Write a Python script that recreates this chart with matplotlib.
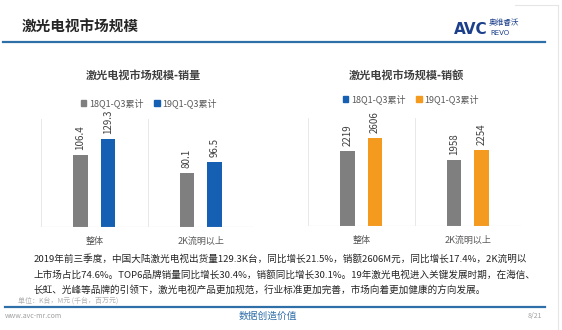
import matplotlib
matplotlib.use("Agg")
import matplotlib.pyplot as plt
from matplotlib.patches import Patch
from matplotlib.lines import Line2D
import numpy as np

plt.rcParams['font.family'] = ['Noto Sans CJK SC', 'DejaVu Sans']

# 数据
categories = ['整体', '2K流明以上']
series_names = ['18Q1-Q3累计', '19Q1-Q3累计']
volume_18 = [106.4, 80.1]
volume_19 = [129.3, 96.5]
sales_18 = [2219, 1958]
sales_19 = [2606, 2254]

page_title = '激光电视市场规模'
title_volume = '激光电视市场规模-销量'
title_sales = '激光电视市场规模-销额'
notes = [
    '2019年前三季度，中国大陆激光电视出货量129.3K台，同比增长21.5%，销额2606M元，同比增长17.4%，2K流明以',
    '上市场占比74.6%。TOP6品牌销量同比增长30.4%，销额同比增长30.1%。19年激光电视进入关键发展时期，在海信、',
    '长虹、光峰等品牌的引领下，激光电视产品更加规范，行业标准更加完善，市场向着更加健康的方向发展。',
]
unit_text = '单位：K台，M元 (千台，百万元)'

GRAY = '#7f7f7f'
BLUE = '#1660b4'
ORANGE = '#f39a1f'
LINE_BLUE = '#2f6fa8'

W, H = 562, 330
fig = plt.figure(figsize=(W / 100, H / 100), dpi=100)


def fx(px):
    return px / W


def fy(py):
    return 1 - py / H


def bar_panel(x0, x1, base, top, v18, v19, c18, c19, ymax, fmt):
    ax = fig.add_axes([fx(x0), fy(base), fx(x1) - fx(x0), fy(top) - fy(base)])
    x = np.arange(len(categories))
    w = 0.135
    b1 = ax.bar(x - 0.13, v18, w, color=c18)
    b2 = ax.bar(x + 0.13, v19, w, color=c19)
    for bars in (b1, b2):
        for b in bars:
            ax.annotate(fmt.format(b.get_height()),
                        (b.get_x() + b.get_width() / 2, b.get_height()),
                        xytext=(0, 3.5), textcoords='offset points',
                        rotation=90, ha='center', va='bottom',
                        fontsize=7, color='#404040')
    ax.set_xlim(-0.5, len(categories) - 0.5)
    ax.set_ylim(0, ymax)
    for xv in np.arange(-0.5, len(categories)):
        ax.axvline(xv, color='#e8e8e8', lw=0.7, zorder=0)
    for s in ax.spines.values():
        s.set_visible(False)
    ax.axhline(0, color='#d0d0d0', lw=0.8)
    ax.set_yticks([])
    ax.set_xticks(x)
    ax.set_xticklabels(categories, fontsize=6.5, color='#595959')
    ax.tick_params(axis='x', length=0, pad=7)
    return ax


ax1 = bar_panel(41, 254, 227, 118.5, volume_18, volume_19, GRAY, BLUE, 160, '{:.1f}')
ax2 = bar_panel(308, 521, 226, 118, sales_18, sales_19, GRAY, ORANGE, 3200, '{:.0f}')

# 图表标题
fig.text(fx(143), fy(75), title_volume, ha='center', va='center',
         fontsize=8, fontweight='bold', color='#404040')
fig.text(fx(406), fy(75), title_sales, ha='center', va='center',
         fontsize=8, fontweight='bold', color='#404040')

# 图例 (原图右侧第一个色块为蓝色)
h1 = [Patch(color=GRAY), Patch(color=BLUE)]
h2 = [Patch(color=BLUE), Patch(color=ORANGE)]
for handles, cx, cy in ((h1, 149, 103), (h2, 411, 99)):
    fig.legend(handles, series_names, loc='center', bbox_to_anchor=(fx(cx), fy(cy)),
               ncol=2, frameon=False, fontsize=6.5, labelcolor='#595959',
               handlelength=0.6, handleheight=0.6, handletextpad=0.3,
               columnspacing=1.2, borderpad=0)

# 页面标题与线条
fig.text(fx(22), fy(27), page_title, ha='left', va='center',
         fontsize=10.5, fontweight='bold', color='#262626')
fig.add_artist(Line2D([fx(3), fx(545)], [fy(42), fy(42)], color=LINE_BLUE, lw=1.6))
fig.add_artist(Line2D([fx(5), fx(545)], [fy(307), fy(307)], color=LINE_BLUE, lw=1.6))
fig.add_artist(Line2D([fx(558), fx(558)], [fy(5), fy(330)], color='#e6e6e6', lw=0.8))
fig.add_artist(Line2D([fx(515), fx(558)], [fy(5), fy(5)], color='#e6e6e6', lw=0.8))

# 标志
fig.text(fx(454), fy(29), 'AVC', ha='left', va='center', fontsize=11,
         fontweight='bold', color='#1b3f8b', family='DejaVu Sans')
fig.text(fx(489), fy(23), '奥维睿沃', ha='left', va='center', fontsize=5.5,
         color='#1b3f8b')
fig.text(fx(490), fy(33), 'REVO', ha='left', va='center', fontsize=5,
         color='#1b3f8b', family='DejaVu Sans')

# 说明文字
for i, line in enumerate(notes):
    fig.text(fx(34), fy(259 + i * 15.5), line, ha='left', va='center',
             fontsize=6.9, color='#262626')

fig.text(fx(18), fy(301), unit_text, ha='left', va='center', fontsize=5, color='#b0b0b0')
fig.text(fx(5), fy(316), 'www.avc-mr.com', ha='left', va='center', fontsize=5, color='#a0a0a0')
fig.text(fx(268), fy(316), '数据创造价值', ha='center', va='center', fontsize=7, color=LINE_BLUE)
fig.text(fx(542), fy(316), '8/21', ha='right', va='center', fontsize=5, color='#a0a0a0')

fig.savefig('out.png', dpi=100)
